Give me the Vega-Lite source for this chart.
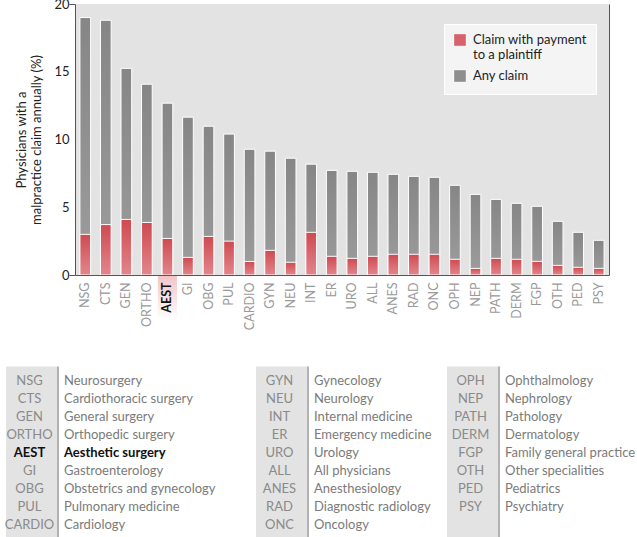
{
  "$schema": "https://vega.github.io/schema/vega-lite/v6.json",
  "padding": {"top": -2, "left": 4, "right": 0, "bottom": 0},
  "bounds": "flush",
  "spacing": 97,
  "config": {
    "font": "Lato",
    "view": {"stroke": null},
    "axis": {"labelFont": "Lato", "titleFont": "Lato"},
    "legend": {"labelFont": "Lato"}
  },
  "vconcat": [
    {
      "width": 534,
      "height": 271,
      "view": {"fill": "#e3e3e3", "stroke": null},
      "resolve": {"axis": {"y": "independent"}},
      "data": {"values": [
        {"code": "NSG", "any": 19.0, "paid": 3.0},
        {"code": "CTS", "any": 18.8, "paid": 3.72},
        {"code": "GEN", "any": 15.25, "paid": 4.1},
        {"code": "ORTHO", "any": 14.08, "paid": 3.88},
        {"code": "AEST", "any": 12.68, "paid": 2.7},
        {"code": "GI", "any": 11.65, "paid": 1.3},
        {"code": "OBG", "any": 10.98, "paid": 2.85},
        {"code": "PUL", "any": 10.4, "paid": 2.5},
        {"code": "CARDIO", "any": 9.28, "paid": 1.0},
        {"code": "GYN", "any": 9.14, "paid": 1.82},
        {"code": "NEU", "any": 8.62, "paid": 0.94},
        {"code": "INT", "any": 8.18, "paid": 3.15},
        {"code": "ER", "any": 7.72, "paid": 1.38},
        {"code": "URO", "any": 7.65, "paid": 1.23},
        {"code": "ALL", "any": 7.58, "paid": 1.38},
        {"code": "ANES", "any": 7.43, "paid": 1.53},
        {"code": "RAD", "any": 7.28, "paid": 1.53},
        {"code": "ONC", "any": 7.21, "paid": 1.53},
        {"code": "OPH", "any": 6.62, "paid": 1.16},
        {"code": "NEP", "any": 5.95, "paid": 0.49},
        {"code": "PATH", "any": 5.58, "paid": 1.23},
        {"code": "DERM", "any": 5.29, "paid": 1.16},
        {"code": "FGP", "any": 5.07, "paid": 1.01},
        {"code": "OTH", "any": 3.96, "paid": 0.71},
        {"code": "PED", "any": 3.15, "paid": 0.57},
        {"code": "PSY", "any": 2.56, "paid": 0.49}
      ]},
      "layer": [
        {
          "transform": [{"filter": "datum.code == 'AEST'"}],
          "mark": {
            "type": "bar",
            "width": {"band": 0.93},
            "clip": false,
            "fill": {"gradient": "linear", "x1": 0, "y1": 0, "x2": 0, "y2": 1, "stops": [{"offset": 0, "color": "#f2c3c6"}, {"offset": 1, "color": "#ffffff"}]}
          },
          "encoding": {
            "x": {"field": "code", "type": "nominal", "sort": null,
              "scale": {"domain": ["NSG","CTS","GEN","ORTHO","AEST","GI","OBG","PUL","CARDIO","GYN","NEU","INT","ER","URO","ALL","ANES","RAD","ONC","OPH","NEP","PATH","DERM","FGP","OTH","PED","PSY"], "paddingInner": 0, "paddingOuter": 0}},
            "y": {"datum": 0, "type": "quantitative", "scale": {"domain": [0, 20]},
              "axis": {"orient": "right", "labels": false, "ticks": false, "grid": false, "title": null, "domainColor": "#555"}},
            "y2": {"datum": -3.3}
          }
        },
        {
          "mark": {"type": "bar", "width": {"band": 0.52}, "stroke": "#ffffff", "strokeWidth": 1,
            "fill": {"gradient": "linear", "x1": 0, "y1": 0, "x2": 0, "y2": 1, "stops": [{"offset": 0, "color": "#868686"}, {"offset": 1, "color": "#9d9d9d"}]}},
          "encoding": {
            "x": {"field": "code", "type": "nominal", "sort": null,
              "scale": {"domain": ["NSG","CTS","GEN","ORTHO","AEST","GI","OBG","PUL","CARDIO","GYN","NEU","INT","ER","URO","ALL","ANES","RAD","ONC","OPH","NEP","PATH","DERM","FGP","OTH","PED","PSY"], "paddingInner": 0, "paddingOuter": 0},
              "axis": {"title": null, "labelAngle": 270, "labelFontSize": 12.5, "ticks": false, "labelPadding": 7, "domainColor": "#555", "grid": false, "zindex": 1,
                "labelColor": {"condition": {"test": "datum.value == 'AEST'", "value": "#111111"}, "value": "#9a9a9a"},
                "labelFontWeight": {"condition": {"test": "datum.value == 'AEST'", "value": "bold"}, "value": "normal"}}},
            "y": {"field": "any", "type": "quantitative", "scale": {"domain": [0, 20]},
              "axis": {"values": [0, 5, 10, 15, 20], "title": ["Physicians with a", "malpractice claim annually (%)"],
                "titleFontSize": 13, "titleFontWeight": "normal", "titleColor": "#222", "titlePadding": 10,
                "labelFontSize": 13, "labelColor": "#222", "labelPadding": 0, "domainColor": "#555", "tickSize": 6,
                "tickColor": {"condition": {"test": "datum.value == 0 || datum.value == 20", "value": "#555"}, "value": "rgba(0,0,0,0)"},
                "gridColor": {"condition": {"test": "datum.value == 0 || datum.value == 20", "value": "rgba(0,0,0,0)"}, "value": "#aaaaaa"},
                "zindex": 0}}
          }
        },
        {
          "mark": {"type": "bar", "width": {"band": 0.52}, "stroke": "#ffffff", "strokeWidth": 1,
            "fill": {"gradient": "linear", "x1": 0, "y1": 0, "x2": 0, "y2": 1, "stops": [{"offset": 0, "color": "#cf4a51"}, {"offset": 1, "color": "#e2868c"}]}},
          "encoding": {
            "x": {"field": "code", "type": "nominal", "sort": null},
            "y": {"field": "paid", "type": "quantitative", "axis": null}
          }
        },
        {
          "transform": [{"fold": ["paid", "any"], "as": ["series", "value"]}],
          "mark": {"type": "square", "opacity": 0},
          "encoding": {
            "x": {"field": "code", "type": "nominal", "sort": null},
            "y": {"field": "value", "type": "quantitative", "axis": null},
            "color": {"field": "series", "type": "nominal",
              "scale": {"domain": ["paid", "any"], "range": ["#d7636a", "#8e8e8e"]},
              "legend": {"orient": "none", "legendX": 369, "legendY": 20, "title": null,
                "fillColor": "#f4f4f4", "strokeColor": "#ffffff", "padding": 9,
                "symbolType": "square", "symbolSize": 160, "symbolStrokeColor": "#ffffff", "symbolStrokeWidth": 1, "symbolOpacity": 1,
                "labelFontSize": 13, "labelColor": "#222", "labelOffset": 6, "rowPadding": 5, "labelLimit": 200,
                "labelExpr": "datum.value == 'paid' ? ['Claim with payment', 'to a plaintiff'] : 'Any claim'"}}
          }
        }
      ]
    },
    {
      "width": 560,
      "height": 162,
      "data": {"values": [
        {"col": 1, "row": 1, "abbr": "NSG", "name": "Neurosurgery"},
        {"col": 1, "row": 2, "abbr": "CTS", "name": "Cardiothoracic surgery"},
        {"col": 1, "row": 3, "abbr": "GEN", "name": "General surgery"},
        {"col": 1, "row": 4, "abbr": "ORTHO", "name": "Orthopedic surgery"},
        {"col": 1, "row": 5, "abbr": "AEST", "name": "Aesthetic surgery"},
        {"col": 1, "row": 6, "abbr": "GI", "name": "Gastroenterology"},
        {"col": 1, "row": 7, "abbr": "OBG", "name": "Obstetrics and gynecology"},
        {"col": 1, "row": 8, "abbr": "PUL", "name": "Pulmonary medicine"},
        {"col": 1, "row": 9, "abbr": "CARDIO", "name": "Cardiology"},
        {"col": 2, "row": 1, "abbr": "GYN", "name": "Gynecology"},
        {"col": 2, "row": 2, "abbr": "NEU", "name": "Neurology"},
        {"col": 2, "row": 3, "abbr": "INT", "name": "Internal medicine"},
        {"col": 2, "row": 4, "abbr": "ER", "name": "Emergency medicine"},
        {"col": 2, "row": 5, "abbr": "URO", "name": "Urology"},
        {"col": 2, "row": 6, "abbr": "ALL", "name": "All physicians"},
        {"col": 2, "row": 7, "abbr": "ANES", "name": "Anesthesiology"},
        {"col": 2, "row": 8, "abbr": "RAD", "name": "Diagnostic radiology"},
        {"col": 2, "row": 9, "abbr": "ONC", "name": "Oncology"},
        {"col": 3, "row": 1, "abbr": "OPH", "name": "Ophthalmology"},
        {"col": 3, "row": 2, "abbr": "NEP", "name": "Nephrology"},
        {"col": 3, "row": 3, "abbr": "PATH", "name": "Pathology"},
        {"col": 3, "row": 4, "abbr": "DERM", "name": "Dermatology"},
        {"col": 3, "row": 5, "abbr": "FGP", "name": "Family general practice"},
        {"col": 3, "row": 6, "abbr": "OTH", "name": "Other specialities"},
        {"col": 3, "row": 7, "abbr": "PED", "name": "Pediatrics"},
        {"col": 3, "row": 8, "abbr": "PSY", "name": "Psychiatry"},
        {"col": 3, "row": 9, "abbr": "", "name": ""}
      ]},
      "encoding": {
        "x": {"field": "col", "type": "quantitative", "scale": {"type": "linear", "domain": [1, 2, 3], "range": [-43.5, 206.5, 397.5], "zero": false, "nice": false}, "axis": null},
        "y": {"field": "row", "type": "ordinal", "scale": {"type": "band", "paddingInner": 0, "paddingOuter": 0}, "axis": null}
      },
      "layer": [
        {"mark": {"type": "rect", "width": 51, "height": {"band": 1.6}, "fill": "#e3e3e3"}},
        {"mark": {"type": "rect", "width": 2, "height": {"band": 1.6}, "xOffset": 26.5, "fill": "#b2b2b2"}},
        {"transform": [{"filter": "datum.abbr != 'AEST'"}],
          "mark": {"type": "text", "align": "center", "dx": -2, "fontSize": 13, "font": "Lato", "color": "#8a8a8a"},
          "encoding": {"text": {"field": "abbr"}}},
        {"transform": [{"filter": "datum.abbr != 'AEST'"}],
          "mark": {"type": "text", "align": "left", "dx": 32.5, "fontSize": 13, "font": "Lato", "color": "#7b7b7b"},
          "encoding": {"text": {"field": "name"}}},
        {"transform": [{"filter": "datum.abbr == 'AEST'"}],
          "mark": {"type": "text", "align": "center", "dx": -2, "fontSize": 13, "font": "Lato", "fontWeight": "bold", "color": "#111111"},
          "encoding": {"text": {"field": "abbr"}}},
        {"transform": [{"filter": "datum.abbr == 'AEST'"}],
          "mark": {"type": "text", "align": "left", "dx": 32.5, "fontSize": 13, "font": "Lato", "fontWeight": "bold", "color": "#111111"},
          "encoding": {"text": {"field": "name"}}}
      ]
    }
  ]
}
